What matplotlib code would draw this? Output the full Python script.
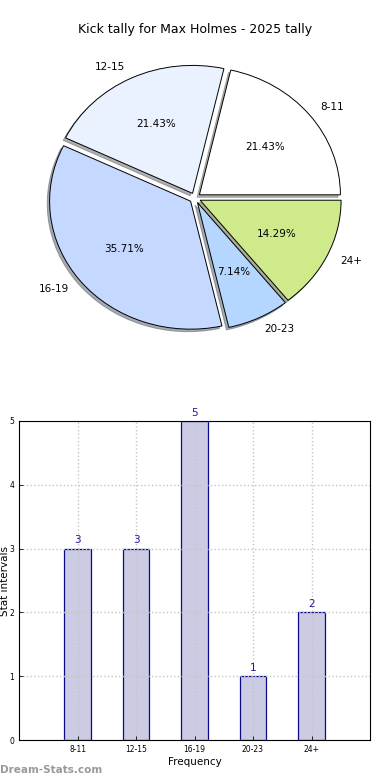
import matplotlib
matplotlib.use("Agg")
import matplotlib.pyplot as plt
import numpy as np

# data
categories = ["8-11", "12-15", "16-19", "20-23", "24+"]
counts = [3, 3, 5, 1, 2]
pie_colors = ["#ffffff", "#ebf2ff", "#c5d8ff", "#b4d6ff", "#cfea8a"]

fig = plt.figure(figsize=(3.9, 7.8), dpi=100)

# ---- pie (not equal aspect, slightly squashed like the original) ----
ax1 = fig.add_axes([0.0, 405 / 780, 1.0, 354 / 780])
ax1.pie(counts, labels=categories, colors=pie_colors, autopct="%1.2f%%",
        explode=[0.04] * len(counts),
        shadow={"ox": -0.012, "oy": -0.014, "shade": 0.6}, startangle=0,
        wedgeprops=dict(edgecolor="black", linewidth=0.7),
        textprops=dict(fontsize=7.5))
ax1.set_aspect("auto")
ax1.set_xlim(-1.383, 1.383)
ax1.set_ylim(-1.383, 1.383)
ax1.axis("off")
fig.text(0.5, 1 - 30 / 780, "Kick tally for Max Holmes - 2025 tally",
         ha="center", va="center", fontsize=9)

# ---- bars ----
ax2 = fig.add_axes([19 / 390, 40 / 780, 351 / 390, 319 / 780])
x = np.arange(len(categories))
ax2.bar(x, counts, width=0.45, color="#cbcce3", edgecolor="#0a0a8c",
        linewidth=0.9, zorder=1)
for xi, c in zip(x, counts):
    ax2.text(xi, c + 0.05, str(c), ha="center", va="bottom",
             color="#1a1a99", fontsize=7.5)
ax2.set_xlim(-1, 5)
ax2.set_ylim(0, 5)
ax2.set_xticks(x)
ax2.set_xticklabels(categories, fontsize=5.5)
ax2.set_yticks(range(6))
ax2.tick_params(axis="y", labelsize=5.5)
ax2.tick_params(direction="in", length=3, width=0.6)
ax2.grid(True, linestyle=":", color="#c4c4c4", linewidth=1.0, zorder=2)
ax2.set_axisbelow(False)
for sp in ax2.spines.values():
    sp.set_zorder(4)
ax2.set_xlabel("Frequency", fontsize=7.5, labelpad=2)
ax2.set_ylabel("Stat intervals", fontsize=7.5)
ax2.yaxis.set_label_coords(-0.025, 0.5)

fig.text(0.0, 1 - 770 / 780, "Dream-Stats.com", color="#999999",
         fontsize=7.5, fontweight="bold", ha="left", va="center")

fig.savefig("out.png", dpi=100)
